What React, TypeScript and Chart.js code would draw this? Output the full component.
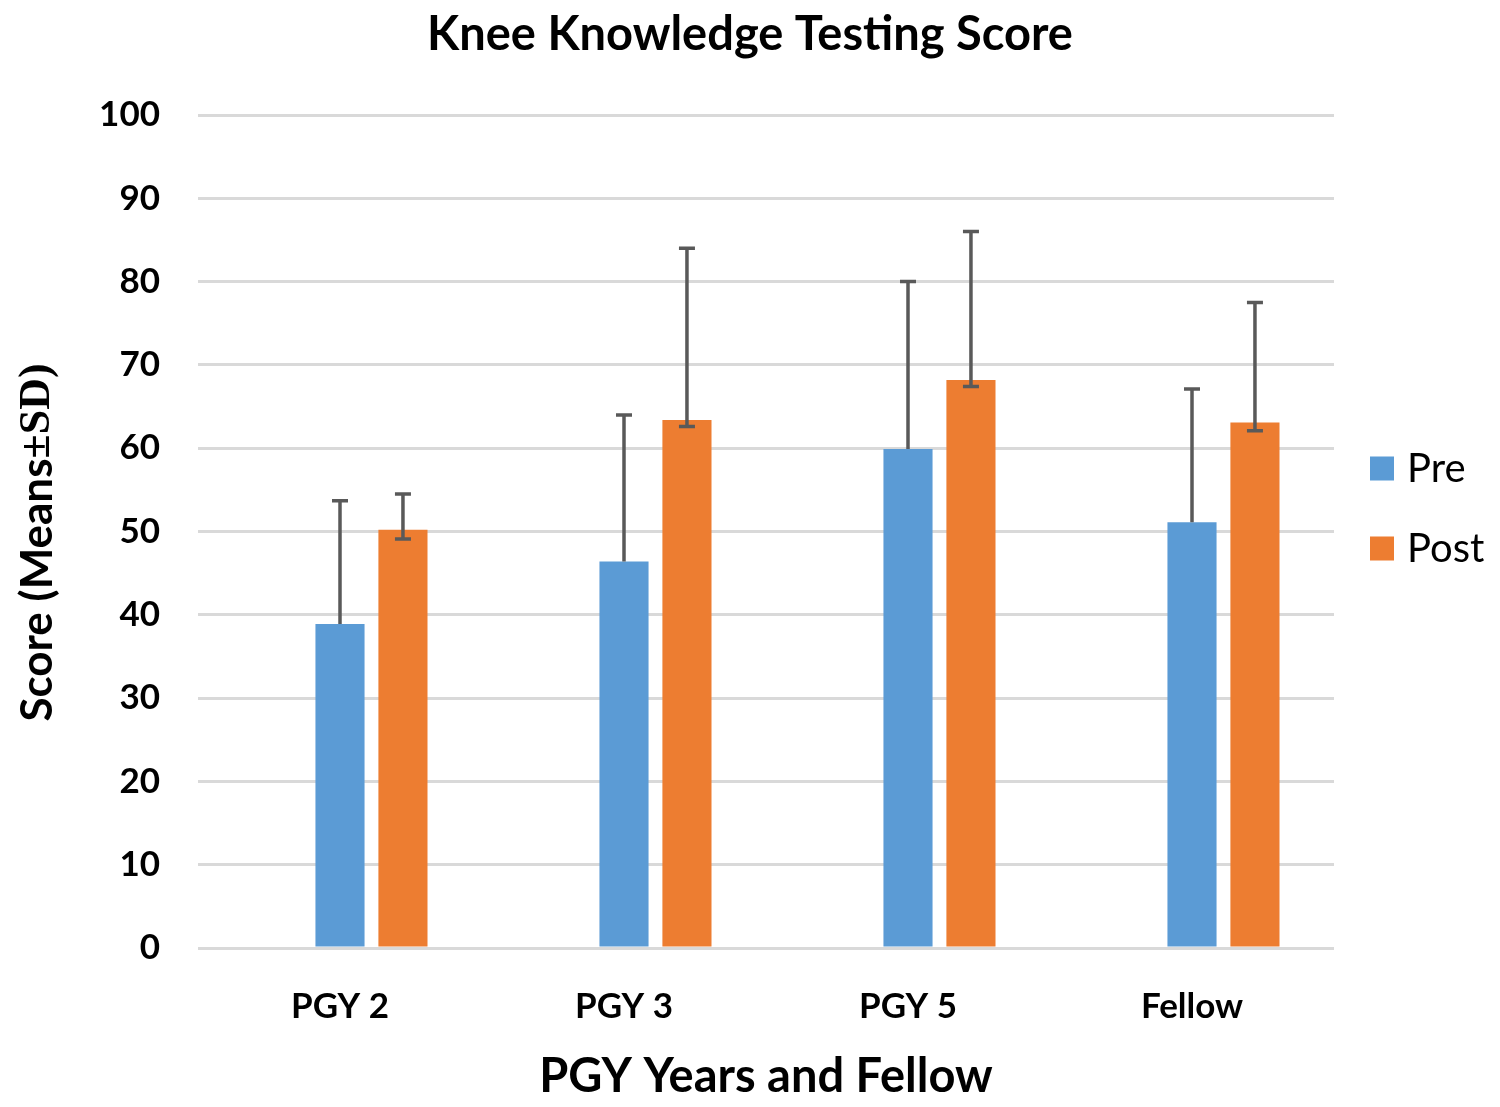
import React, { useEffect, useRef } from "react";
import { Chart, registerables } from "chart.js";

Chart.register(...registerables);

const categories = ["PGY 2", "PGY 3", "PGY 5", "Fellow"];
const preMeans = [38.9, 46.4, 59.9, 51.1];
const postMeans = [50.2, 63.4, 68.2, 63.1];
const preSDPlus = [14.8, 17.6, 20.1, 16.0];
const postSDPlus = [4.3, 20.6, 17.8, 14.4];
const postSDMinus = [1.1, 0.8, 0.8, 1.0];
const spacer = [null, null, null, null];
const yTicks = [0, 10, 20, 30, 40, 50, 60, 70, 80, 90, 100];

const BLUE = "#5B9BD5";
const ORANGE = "#ED7D31";
const ERR = "#595959";
const SANS = "Lato, 'Open Sans', sans-serif";

const errorBars = {
  id: "errorBars",
  afterDatasetsDraw(chart: any) {
    const { ctx } = chart;
    const y = chart.scales.y;
    const specs = [
      { ds: 1, mean: preMeans, plus: preSDPlus, minus: null as number[] | null },
      { ds: 2, mean: postMeans, plus: postSDPlus, minus: postSDMinus },
    ];
    ctx.save();
    ctx.strokeStyle = ERR;
    ctx.lineWidth = 3.5;
    const cap = 8;
    for (const s of specs) {
      const meta = chart.getDatasetMeta(s.ds);
      meta.data.forEach((bar: any, i: number) => {
        const x = bar.x;
        const top = y.getPixelForValue(s.mean[i] + s.plus[i]);
        const bot = s.minus ? y.getPixelForValue(s.mean[i] - s.minus[i]) : y.getPixelForValue(s.mean[i]);
        ctx.beginPath();
        ctx.moveTo(x, bot);
        ctx.lineTo(x, top);
        ctx.moveTo(x - cap, top);
        ctx.lineTo(x + cap, top);
        if (s.minus) {
          ctx.moveTo(x - cap, bot);
          ctx.lineTo(x + cap, bot);
        }
        ctx.stroke();
      });
    }
    ctx.restore();
  },
};

const extras = {
  id: "extras",
  afterDraw(chart: any) {
    const { ctx, chartArea } = chart;
    ctx.save();
    // legend
    const items = chart.data.datasets.filter((d: any) => d.label);
    const mid = (chartArea.top + chartArea.bottom) / 2 - 23;
    const lx = chartArea.right + 36;
    items.forEach((d: any, i: number) => {
      const cy = mid + (i - (items.length - 1) / 2) * 80;
      ctx.fillStyle = d.backgroundColor;
      ctx.fillRect(lx, cy - 12, 24, 24);
      ctx.fillStyle = "#000";
      ctx.font = `40px ${SANS}`;
      ctx.textBaseline = "middle";
      ctx.textAlign = "left";
      ctx.fillText(d.label, lx + 37, cy + 1);
    });
    // y title with mixed fonts
    const partA = "Score (Means";
    const partB = "\u00B1SD)";
    const fA = `bold 44px ${SANS}`;
    const fB = `bold 44px 'Liberation Serif', 'DejaVu Serif', serif`;
    ctx.font = fA;
    const wA = ctx.measureText(partA).width;
    ctx.font = fB;
    const wB = ctx.measureText(partB).width;
    const total = wA + wB;
    const cyT = (chartArea.top + chartArea.bottom) / 2 + 11;
    ctx.translate(38, cyT);
    ctx.rotate(-Math.PI / 2);
    ctx.textBaseline = "middle";
    ctx.textAlign = "left";
    ctx.fillStyle = "#000";
    ctx.font = fA;
    ctx.fillText(partA, -total / 2, 0);
    ctx.font = fB;
    ctx.fillText(partB, -total / 2 + wA, 0);
    ctx.restore();
  },
};

export default function App() {
  const ref = useRef<HTMLCanvasElement>(null);
  useEffect(() => {
    document.body.style.margin = "0";
    const chart = new Chart(ref.current!, {
      type: "bar",
      data: {
        labels: categories,
        datasets: [
          { label: "", data: spacer as any, backgroundColor: "rgba(0,0,0,0)" },
          { label: "Pre", data: preMeans, backgroundColor: BLUE },
          { label: "Post", data: postMeans, backgroundColor: ORANGE },
        ],
      },
      options: {
        animation: false,
        responsive: true,
        maintainAspectRatio: false,
        categoryPercentage: 0.665,
        barPercentage: 0.78,
        layout: { padding: 0 },
        plugins: {
          legend: { display: false },
          tooltip: { enabled: false },
          title: {
            display: true,
            text: "Knee Knowledge Testing Score",
            color: "#000",
            font: { family: SANS, size: 47, weight: "bold" },
            padding: { top: 7, bottom: 51.6 },
          },
        },
        scales: {
          x: {
            grid: { display: false, drawTicks: false },
            border: { display: false },
            ticks: {
              color: "#000",
              font: { family: SANS, size: 35, weight: "bold" },
              padding: 38,
              maxRotation: 0,
            },
            title: {
              display: true,
              text: "PGY Years and Fellow",
              color: "#000",
              font: { family: SANS, size: 47, weight: "bold" },
              padding: { top: 0, bottom: 2 },
            },
            afterFit(scale: any) {
              scale.height = 159;
            },
          },
          y: {
            min: 0,
            max: 100,
            afterBuildTicks(scale: any) {
              scale.ticks = yTicks.map((v) => ({ value: v }));
            },
            grid: { color: "#D9D9D9", lineWidth: 3, drawTicks: false },
            border: { display: false },
            ticks: {
              color: "#000",
              font: { family: SANS, size: 35, weight: "bold" },
              padding: 38,
            },
            afterFit(scale: any) {
              scale.width = 198;
            },
          },
          legendSpace: {
            type: "linear",
            position: "right",
            display: true,
            grid: { display: false, drawTicks: false },
            border: { display: false },
            ticks: { display: false },
            afterFit(scale: any) {
              scale.width = 166;
            },
          },
        },
      },
      plugins: [errorBars, extras],
    });
    return () => chart.destroy();
  }, []);
  return (
    <div style={{ position: "absolute", left: 0, top: 0, width: 1500, height: 1107 }}>
      <canvas ref={ref} />
    </div>
  );
}
